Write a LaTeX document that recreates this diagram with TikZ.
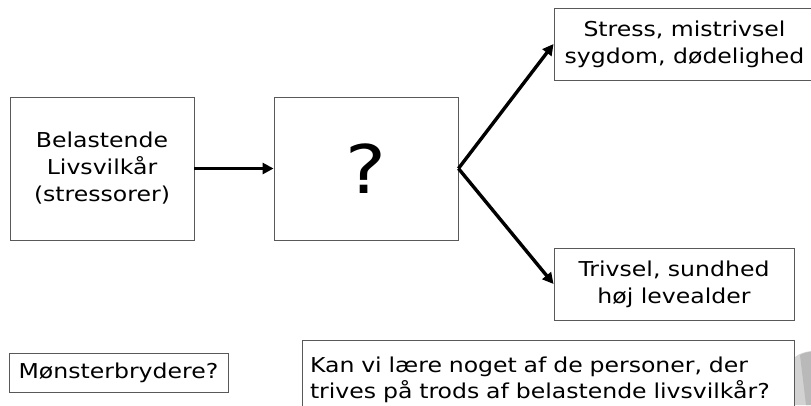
\documentclass[tikz,border=0pt]{standalone}
\usepackage{fontspec}
\setmainfont{DejaVu Sans}[FakeStretch=1.15]
\usetikzlibrary{arrows.meta}
\begin{document}
\begin{tikzpicture}[x=1pt,y=-1pt,
  box/.style={draw=black!65, line width=0.9pt, align=center, inner sep=0pt,
    font=\fontsize{20.5}{27}\selectfont},
  arr/.style={line width=3.4pt, -{Triangle[length=11pt,width=11pt]}}]
\useasboundingbox (0,0) rectangle (811,405);
\clip (0,0) rectangle (811,405);
\node[box, minimum width=184, minimum height=143] (b1) at (102,168.5)
  {Belastende\\Livsvilkår\\(stressorer)};
\node[box, minimum width=184, minimum height=143, font=\fontsize{67}{70}\selectfont] (b2) at (366,168.5) {?};
\node[box, minimum width=261, minimum height=72] (r1) at (684.5,44)
  {Stress, mistrivsel\\sygdom, dødelighed};
\node[box, minimum width=240, minimum height=72] (r2) at (674,284)
  {Trivsel, sundhed\\høj levealder};
\node[box, minimum width=219, minimum height=39] (m) at (118.5,372.5) {Mønsterbrydere?};
\fill[gray!35] (795,357) .. controls (800,353) and (805,352) .. (811,351) -- (811,405) -- (795,405) -- cycle;
\fill[gray!55] (800,355) .. controls (804,353) and (807,352) .. (811,352) -- (811,405) -- (806,405) -- cycle;
\node[box, fill=white, minimum height=80, text width=476, inner xsep=8, align=left, font=\fontsize{20.5}{26}\selectfont] (k) at (548,380)
  {Kan vi lære noget af de personer, der\\trives på trods af belastende livsvilkår?};
\draw[arr] (b1) -- (b2);
\draw[arr] (b2.east) -- (r1.west);
\draw[arr] (b2.east) -- (r2.west);
\end{tikzpicture}
\end{document}
